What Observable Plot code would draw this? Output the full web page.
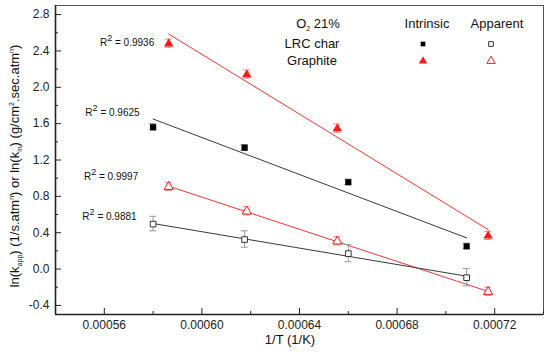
<!DOCTYPE html>
<html>
<head>
<meta charset="utf-8">
<script src="https://cdn.jsdelivr.net/npm/d3@7"></script>
<script src="https://cdn.jsdelivr.net/npm/@observablehq/plot@0.6"></script>
<style>
  html, body { margin: 0; padding: 0; background: #fff; }
  #chart { position: relative; width: 550px; height: 352px; }
  svg { font-family: Arial, "Liberation Sans", sans-serif; }
</style>
</head>
<body>
<div id="chart"></div>
<script>
// ---- data ----
const lrcX = [0.000580, 0.0006175, 0.000660, 0.0007085];
const graphiteX = [0.0005864, 0.0006184, 0.0006555, 0.0007173];
const lrcIntrinsic = [1.56, 1.335, 0.955, 0.25];
const lrcIntrinsicErr = [0.035, 0.03, 0.03, 0.03];
const graphiteIntrinsic = [2.48, 2.14, 1.545, 0.365];
const graphiteIntrinsicErr = [0.045, 0.045, 0.045, 0.045];
const lrcApparent = [0.495, 0.325, 0.17, -0.095];
const lrcApparentErr = [0.08, 0.09, 0.095, 0.095];
const graphiteApparent = [0.905, 0.635, 0.305, -0.25];
const graphiteApparentErr = [0.045, 0.045, 0.045, 0.045];
const r2Labels = ["0.9936", "0.9625", "0.9997", "0.9881"];
const xTicks = [0.00056, 0.00060, 0.00064, 0.00068, 0.00072];
const xMinor = [0.00054, 0.00058, 0.00062, 0.00066, 0.00070, 0.00074];
const yTicks = [-0.4, 0.0, 0.4, 0.8, 1.2, 1.6, 2.0, 2.4, 2.8];
const yMinor = [-0.2, 0.2, 0.6, 1.0, 1.4, 1.8, 2.2, 2.6];

function rows(xs, ys, es, series, type) {
  return xs.map((x, i) => ({x, y: ys[i], e: es[i], series, type}));
}
const dLI = rows(lrcX, lrcIntrinsic, lrcIntrinsicErr, "LRC char", "Intrinsic");
const dGI = rows(graphiteX, graphiteIntrinsic, graphiteIntrinsicErr, "Graphite", "Intrinsic");
const dLA = rows(lrcX, lrcApparent, lrcApparentErr, "LRC char", "Apparent");
const dGA = rows(graphiteX, graphiteApparent, graphiteApparentErr, "Graphite", "Apparent");

const RED = "#ff1a1a";
const BLACK = "#000";
const LINE_BLACK = "#3a3a3a";
const LINE_RED = "#ff3333";

function caps(data, color, sign) {
  return Plot.dot(data, {x: "x", y: d => d.y + sign * d.e, r: 0,
    render(index, scales, values) {
      const g = d3.create("svg:g").attr("stroke", color).attr("stroke-width", 1);
      for (const i of index) {
        g.append("line").attr("x1", values.x[i] - 3.5).attr("x2", values.x[i] + 3.5)
          .attr("y1", values.y[i]).attr("y2", values.y[i]);
      }
      return g.node();
    }});
}
function errorBars(data, color) {
  return [
    Plot.ruleX(data, {x: "x", y1: d => d.y - d.e, y2: d => d.y + d.e, stroke: color, strokeWidth: 1}),
    caps(data, color, -1),
    caps(data, color, 1)
  ];
}

const plot = Plot.plot({
  width: 550,
  height: 352,
  marginLeft: 55,
  marginRight: 7,
  marginTop: 5,
  marginBottom: 38,
  style: {fontFamily: "Arial, 'Liberation Sans', sans-serif", fontSize: "12px", color: "#222"},
  x: {domain: [0.00054, 0.00074], label: null},
  y: {domain: [-0.5, 2.9], label: null},
  marks: [
    Plot.frame({stroke: "#555", strokeWidth: 1}),
    // regression lines
    Plot.linearRegressionY(dGI, {x: "x", y: "y", stroke: LINE_RED, strokeWidth: 1, ci: 0}),
    Plot.linearRegressionY(dLI, {x: "x", y: "y", stroke: LINE_BLACK, strokeWidth: 1, ci: 0}),
    Plot.linearRegressionY(dGA, {x: "x", y: "y", stroke: LINE_RED, strokeWidth: 1, ci: 0}),
    Plot.linearRegressionY(dLA, {x: "x", y: "y", stroke: LINE_BLACK, strokeWidth: 1, ci: 0}),
    // error bars
    ...errorBars(dLI, "#999"),
    ...errorBars(dGI, "#ff8080"),
    ...errorBars(dLA, "#999"),
    ...errorBars(dGA, "#ff8080"),
    // points
    Plot.dot(dLI, {x: "x", y: "y", symbol: "square", r: 3.5, fill: BLACK, stroke: "none"}),
    Plot.dot(dGI, {x: "x", y: "y", symbol: "triangle", r: 3.5, fill: RED, stroke: "none"}),
    Plot.dot(dLA, {x: "x", y: "y", symbol: "square", r: 3.2, fill: "white", stroke: "#333", strokeWidth: 1}),
    Plot.dot(dGA, {x: "x", y: "y", symbol: "triangle", r: 3.4, fill: "white", stroke: RED, strokeWidth: 1}),
    // axes
    Plot.axisX(xTicks, {label: null, tickSize: -6, tickFormat: d => d.toFixed(5), tickPadding: 12, stroke: "#222", fill: "#222", fontSize: 12}),
    Plot.axisX(xMinor, {label: null, tickSize: -3, tickFormat: () => "", stroke: "#222"}),
    Plot.axisY(yTicks, {label: null, tickSize: -6, tickFormat: d => d.toFixed(1), tickPadding: 12, stroke: "#222", fill: "#222", fontSize: 12}),
    Plot.axisY(yMinor, {label: null, tickSize: -3, tickFormat: () => "", stroke: "#222"}),
    Plot.ruleY([-0.5], {stroke: "#222", strokeWidth: 1.6}),
    Plot.ruleX([0.00054], {stroke: "#222", strokeWidth: 1.6})
  ]
});

document.getElementById("chart").appendChild(plot);

const svg = d3.select(plot);
const sx = plot.scale("x"), sy = plot.scale("y");
const fam = "Arial, 'Liberation Sans', sans-serif";

// R² annotations, anchored to first point of each series
const r2Series = [dGI, dLI, dGA, dLA];
const r2Offsets = [[-14, 3], [-13, -11], [-30, -6], [-16, -4]];
r2Series.forEach((ser, k) => {
  const px = sx.apply(ser[0].x) + r2Offsets[k][0];
  const py = sy.apply(ser[0].y) + r2Offsets[k][1];
  const t = svg.append("text").attr("x", px).attr("y", py).attr("text-anchor", "end")
    .attr("font-family", fam).attr("font-size", 10).attr("fill", "#111");
  t.append("tspan").text("R");
  t.append("tspan").attr("dy", -5).attr("font-size", 9).text("2");
  t.append("tspan").attr("dy", 5).text(" = " + r2Labels[k]);
});

// Legend
const lg = svg.append("g").attr("font-family", fam).attr("font-size", 13).attr("fill", "#111");
const t0 = lg.append("text").attr("x", 318).attr("y", 28);
t0.append("tspan").text("O");
t0.append("tspan").attr("dy", 3).attr("font-size", 7).text("2");
t0.append("tspan").attr("dy", -3).text(" 21%");
lg.append("text").attr("x", 427).attr("y", 28).attr("text-anchor", "middle").text("Intrinsic");
lg.append("text").attr("x", 497).attr("y", 28).attr("text-anchor", "middle").text("Apparent");
lg.append("text").attr("x", 312).attr("y", 48).text("LRC char");
lg.append("text").attr("x", 312).attr("y", 65).text("Graphite");
const sq = d3.symbol(d3.symbolSquare, 22), tri = d3.symbol(d3.symbolTriangle, 30);
lg.append("path").attr("d", sq()).attr("transform", "translate(423,44)").attr("fill", "#000");
lg.append("path").attr("d", sq()).attr("transform", "translate(491,44)").attr("fill", "#fff").attr("stroke", "#333");
lg.append("path").attr("d", tri()).attr("transform", "translate(423,61)").attr("fill", RED);
lg.append("path").attr("d", tri()).attr("transform", "translate(491,61)").attr("fill", "#fff").attr("stroke", RED);

// axis titles
svg.append("text").attr("x", 290).attr("y", 344).attr("text-anchor", "middle")
  .attr("font-family", fam).attr("font-size", 13).attr("fill", "#111").text("1/T (1/K)");

const yl = svg.append("text").attr("transform", "translate(19,166) rotate(-90)")
  .attr("text-anchor", "middle").attr("font-family", fam).attr("font-size", 13).attr("fill", "#111");
yl.append("tspan").text("ln(k");
yl.append("tspan").attr("dy", 3).attr("font-size", 7).text("app");
yl.append("tspan").attr("dy", -3).text(") (1/s.atm");
yl.append("tspan").attr("dy", -5).attr("font-size", 7).text("n");
yl.append("tspan").attr("dy", 5).text(") or ln(k");
yl.append("tspan").attr("dy", 3).attr("font-size", 7).text("in");
yl.append("tspan").attr("dy", -3).text(") (g/cm");
yl.append("tspan").attr("dy", -5).attr("font-size", 7).text("2");
yl.append("tspan").attr("dy", 5).text(".sec.atm");
yl.append("tspan").attr("dy", -5).attr("font-size", 7).text("n");
yl.append("tspan").attr("dy", 5).text(")");
</script>
</body>
</html>
